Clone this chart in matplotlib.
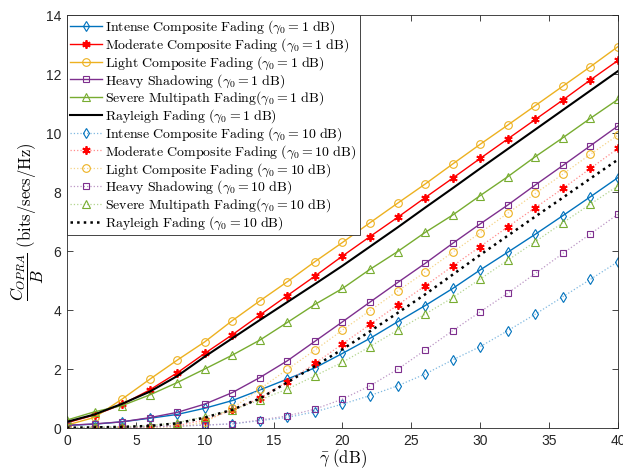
import numpy as np
import matplotlib
matplotlib.use("Agg")
import matplotlib.pyplot as plt

plt.rcParams["mathtext.fontset"] = "cm"
plt.rcParams["font.family"] = ["Liberation Sans", "DejaVu Sans"]

snr_db = list(range(0, 41, 2))

# gamma0 = 1 dB
intense_1 = [0.09, 0.13, 0.21, 0.33, 0.46, 0.67, 0.93, 1.29, 1.66, 2.04, 2.53,
             3.04, 3.60, 4.15, 4.73, 5.36, 5.96, 6.57, 7.20, 7.84, 8.49]
moderate_1 = [0.18, 0.44, 0.80, 1.29, 1.87, 2.53, 3.16, 3.83, 4.49, 5.15, 5.83,
              6.49, 7.14, 7.81, 8.47, 9.14, 9.80, 10.46, 11.12, 11.80, 12.46]
light_1 = [0.10, 0.36, 0.98, 1.65, 2.30, 2.92, 3.64, 4.31, 4.96, 5.64, 6.29,
           6.96, 7.62, 8.27, 8.95, 9.62, 10.27, 10.93, 11.59, 12.25, 12.93]
heavy_1 = [0.09, 0.14, 0.21, 0.35, 0.53, 0.81, 1.20, 1.71, 2.28, 2.94, 3.60,
           4.27, 4.93, 5.58, 6.26, 6.92, 7.56, 8.24, 8.90, 9.57, 10.24]
severe_1 = [0.27, 0.55, 0.76, 1.12, 1.54, 2.00, 2.47, 2.98, 3.58, 4.19, 4.73,
            5.38, 5.98, 6.63, 7.22, 7.88, 8.52, 9.20, 9.84, 10.50, 11.14]
rayleigh_1 = [0.21, 0.46, 0.82, 1.23, 1.76, 2.42, 3.04, 3.66, 4.27, 4.88, 5.50,
              6.15, 6.80, 7.47, 8.13, 8.80, 9.46, 10.12, 10.78, 11.44, 12.10]

# gamma0 = 10 dB
intense_10 = [0.01, 0.02, 0.03, 0.05, 0.07, 0.10, 0.14, 0.25, 0.36, 0.55, 0.81,
              1.10, 1.43, 1.83, 2.31, 2.76, 3.30, 3.86, 4.45, 5.04, 5.64]
moderate_10 = [0.00, 0.00, 0.01, 0.03, 0.08, 0.27, 0.61, 1.01, 1.57, 2.19, 2.85,
               3.51, 4.17, 4.82, 5.49, 6.15, 6.82, 7.47, 8.12, 8.80, 9.48]
light_10 = [0.00, 0.00, 0.00, 0.00, 0.01, 0.20, 0.67, 1.32, 1.99, 2.64, 3.32,
            3.98, 4.64, 5.29, 5.96, 6.62, 7.28, 7.95, 8.61, 9.28, 9.93]
heavy_10 = [0.01, 0.01, 0.02, 0.04, 0.06, 0.10, 0.14, 0.27, 0.41, 0.64, 0.98,
            1.43, 1.99, 2.64, 3.30, 3.94, 4.57, 5.24, 5.92, 6.58, 7.25]
severe_10 = [0.02, 0.03, 0.04, 0.08, 0.18, 0.38, 0.61, 0.95, 1.32, 1.77, 2.23,
             2.76, 3.32, 3.86, 4.42, 5.05, 5.69, 6.32, 6.96, 7.59, 8.21]
rayleigh_10 = [0.01, 0.02, 0.04, 0.07, 0.16, 0.35, 0.62, 1.00, 1.55, 2.10, 2.67,
               3.28, 3.90, 4.53, 5.20, 5.87, 6.52, 7.17, 7.81, 8.46, 9.10]

names = ["Intense\\ Composite\\ Fading\\ ", "Moderate\\ Composite\\ Fading\\ ",
         "Light\\ Composite\\ Fading\\ ", "Heavy\\ Shadowing\\ ",
         "Severe\\ Multipath\\ Fading"]
colors = ["#0072BD", "#FF0000", "#EDB120", "#7E2F8E", "#77AC30"]
light_colors = ["#7fb8e0", "#ff8c8c", "#f5d488", "#bd97c6", "#b3d58e"]
asterisk = (6, 2, 0)
markers = ["d", asterisk, "o", "s", "^"]
sizes = [5, 6, 5.5, 4.5, 5.5]
series_1 = [intense_1, moderate_1, light_1, heavy_1, severe_1]
series_10 = [intense_10, moderate_10, light_10, heavy_10, severe_10]


def label(name, g0):
    return r"$\mathrm{" + name + r"}(\gamma_0 = " + str(g0) + r"\ \mathrm{dB})$"


fig = plt.figure(figsize=(6.23, 4.69), dpi=100)
ax = fig.add_axes([0.1075, 0.0874, 0.8845, 0.8806])

for name, c, m, s, y in zip(names, colors, markers, sizes, series_1):
    ax.plot(snr_db, y, color=c, lw=1.0, marker=m, ms=s,
            mfc="none", mec=c, mew=1.3 if m == asterisk else 0.8,
            label=label(name, 1))
ax.plot(snr_db, rayleigh_1, color="black", lw=1.5,
        label=label("Rayleigh\\ Fading\\ ", 1))

for name, c, lc, m, s, y in zip(names, colors, light_colors, markers, sizes,
                                series_10):
    ax.plot(snr_db, y, color=lc, lw=0.9, ls=":", marker=m, ms=s,
            mfc="none", mec=c, mew=1.3 if m == asterisk else 0.8,
            label=label(name, 10))
ax.plot(snr_db, rayleigh_10, color="black", lw=1.8, ls=":",
        label=label("Rayleigh\\ Fading\\ ", 10))

ax.set_xlim(0, 40)
ax.set_ylim(0, 14)
ax.set_xticks(range(0, 41, 5))
ax.set_yticks(range(0, 15, 2))
ax.tick_params(direction="in", top=True, right=True, length=4, width=0.6,
               labelsize=10, colors="#262626", pad=4)
for sp in ax.spines.values():
    sp.set_color("#262626")
    sp.set_linewidth(0.6)

ax.set_xlabel(r"$\bar{\gamma}\ \mathrm{(dB)}$", fontsize=12, labelpad=0)
ax.set_ylabel(r"$\dfrac{C_{OPRA}}{B}\ \mathrm{(bits/secs/Hz)}$", fontsize=12,
              labelpad=0)

leg = ax.legend(loc="upper left", fontsize=10, frameon=True, fancybox=False,
                edgecolor="#262626", framealpha=1, borderaxespad=0,
                labelspacing=0.0, handlelength=2.3, handletextpad=0.2,
                borderpad=0.25)
leg.get_frame().set_linewidth(0.6)

fig.savefig("out.png", dpi=100)
